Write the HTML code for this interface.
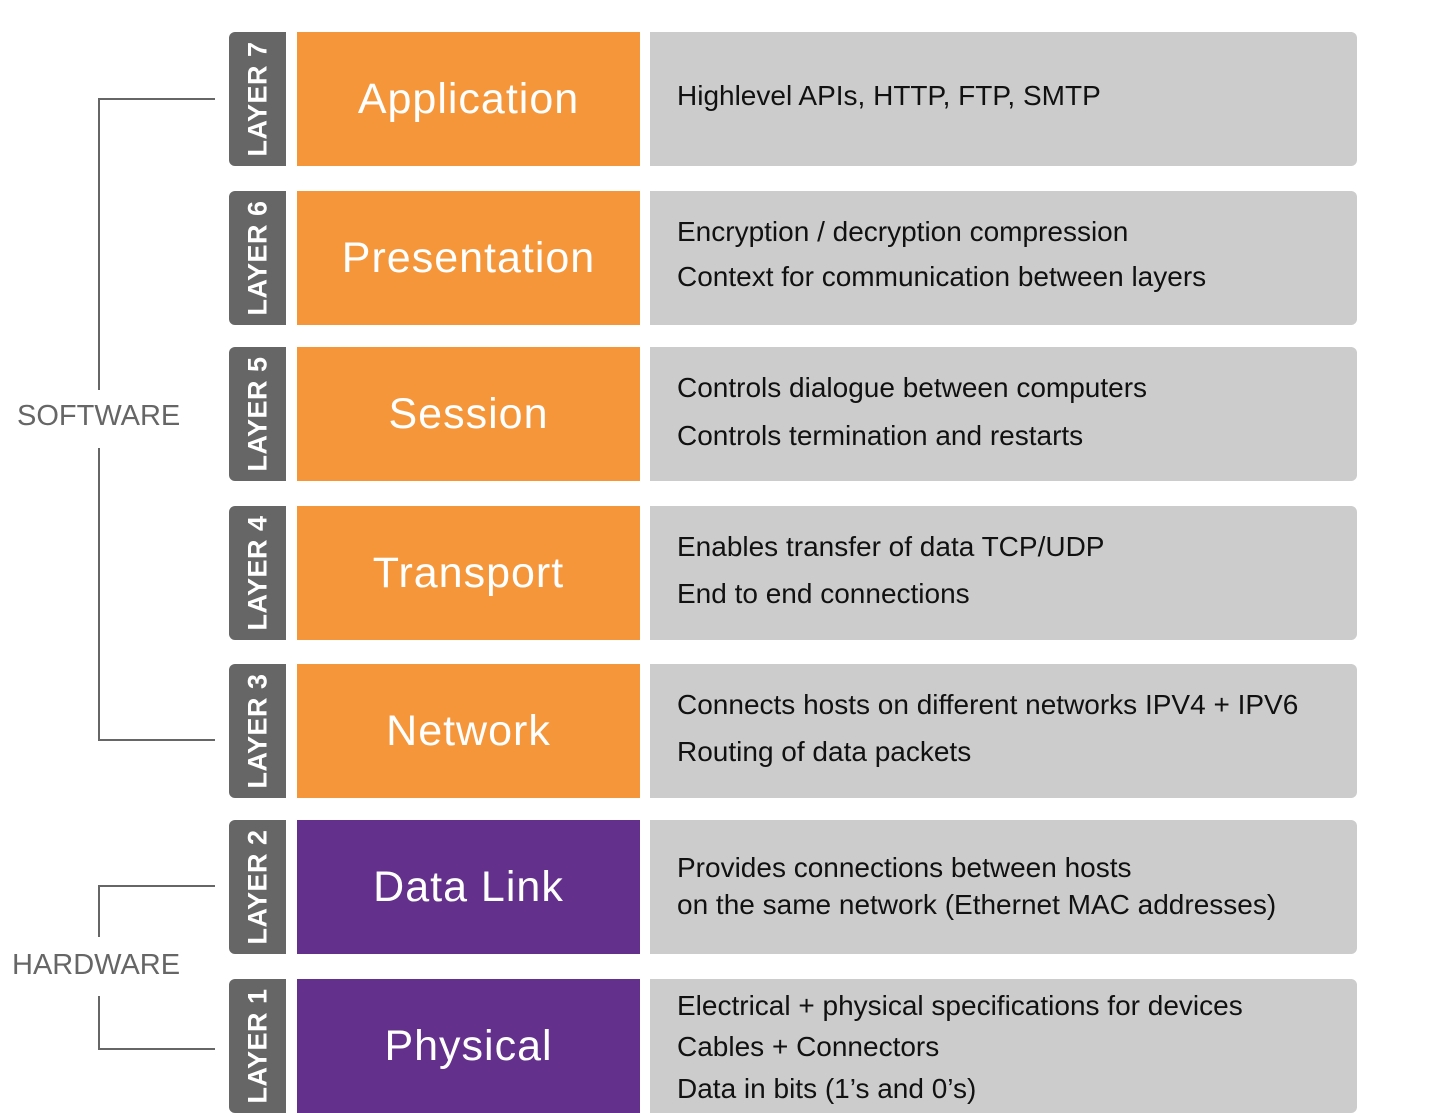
<!DOCTYPE html>
<html><head><meta charset="utf-8"><style>
body{margin:0;width:1436px;height:1112px;background:#fff;position:relative;overflow:hidden;font-family:"Liberation Sans",sans-serif}
.l{position:absolute;left:229px;width:57px;height:134px;background:#666;border-radius:6px 0 0 6px}
.l span{position:absolute;left:50%;top:50%;transform:translate(-50%,-50%) rotate(-90deg);color:#fff;font-weight:bold;font-size:27px;white-space:nowrap;letter-spacing:0.5px}
.n{position:absolute;left:297px;width:343px;height:134px;color:#fff;font-size:43px;display:flex;align-items:center;justify-content:center;letter-spacing:1px}
.o{background:#F5963A}.p{background:#63308C}
.d{position:absolute;left:650px;width:707px;height:134px;background:#ccc;border-radius:0 6px 6px 0;color:#111;font-size:28px}
.d div{position:absolute;left:27px;white-space:nowrap}
.ln{position:absolute;background:#666}
.t{position:absolute;color:#666;font-size:29px}
</style></head><body>
<div class="ln" style="left:98px;top:98px;width:2px;height:292px"></div>
<div class="ln" style="left:98px;top:448px;width:2px;height:293px"></div>
<div class="ln" style="left:98px;top:98px;width:117px;height:2px"></div>
<div class="ln" style="left:98px;top:739px;width:117px;height:2px"></div>
<div class="t" style="left:17px;top:400px">SOFTWARE</div>
<div class="ln" style="left:98px;top:885px;width:2px;height:52px"></div>
<div class="ln" style="left:98px;top:996px;width:2px;height:54px"></div>
<div class="ln" style="left:98px;top:885px;width:117px;height:2px"></div>
<div class="ln" style="left:98px;top:1048px;width:117px;height:2px"></div>
<div class="t" style="left:12px;top:949px">HARDWARE</div>

<div class="l" style="top:32px"><span>LAYER 7</span></div>
<div class="n o" style="top:32px">Application</div>
<div class="d" style="top:32px"><div style="top:48px">Highlevel APIs, HTTP, FTP, SMTP</div></div>

<div class="l" style="top:191px"><span>LAYER 6</span></div>
<div class="n o" style="top:191px">Presentation</div>
<div class="d" style="top:191px"><div style="top:25px">Encryption / decryption compression</div><div style="top:70px">Context for communication between layers</div></div>

<div class="l" style="top:347px"><span>LAYER 5</span></div>
<div class="n o" style="top:347px">Session</div>
<div class="d" style="top:347px"><div style="top:25px">Controls dialogue between computers</div><div style="top:73px">Controls termination and restarts</div></div>

<div class="l" style="top:506px"><span>LAYER 4</span></div>
<div class="n o" style="top:506px">Transport</div>
<div class="d" style="top:506px"><div style="top:25px">Enables transfer of data TCP/UDP</div><div style="top:72px">End to end connections</div></div>

<div class="l" style="top:664px"><span>LAYER 3</span></div>
<div class="n o" style="top:664px">Network</div>
<div class="d" style="top:664px"><div style="top:25px">Connects hosts on different networks IPV4 + IPV6</div><div style="top:72px">Routing of data packets</div></div>

<div class="l" style="top:820px"><span>LAYER 2</span></div>
<div class="n p" style="top:820px">Data Link</div>
<div class="d" style="top:820px"><div style="top:32px">Provides connections between hosts</div><div style="top:69px">on the same network (Ethernet MAC addresses)</div></div>

<div class="l" style="top:979px"><span>LAYER 1</span></div>
<div class="n p" style="top:979px">Physical</div>
<div class="d" style="top:979px"><div style="top:11px">Electrical + physical specifications for devices</div><div style="top:52px">Cables + Connectors</div><div style="top:94px">Data in bits (1’s and 0’s)</div></div>
</body></html>
